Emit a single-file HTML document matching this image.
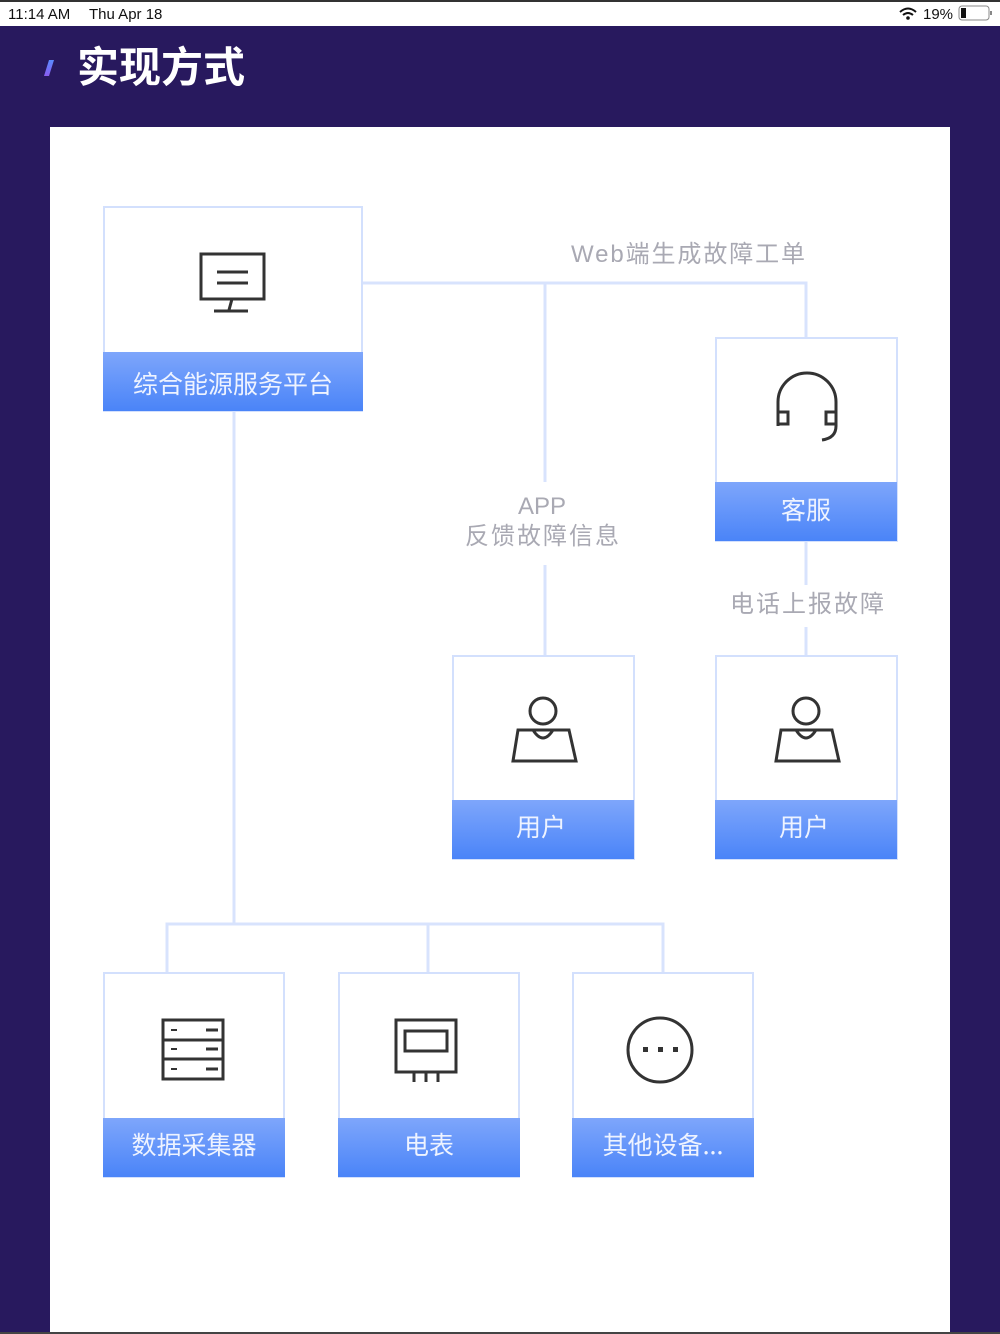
<!DOCTYPE html>
<html><head><meta charset="utf-8"><style>
html,body{margin:0;padding:0;width:1000px;height:1334px;overflow:hidden;background:#28195e;font-family:"Liberation Sans","Noto Sans CJK SC",sans-serif}
</style></head><body>
<svg width="1000" height="1334" xmlns="http://www.w3.org/2000/svg" style="position:absolute;left:0;top:0">
<defs>
<linearGradient id="g" x1="0" y1="0" x2="0" y2="1"><stop offset="0" stop-color="#7ea6fb"/><stop offset="1" stop-color="#4a84f8"/></linearGradient>
<linearGradient id="s" x1="0" y1="0" x2="0" y2="1"><stop offset="0" stop-color="#5a8bff"/><stop offset="1" stop-color="#8a5cf0"/></linearGradient>
</defs>
<rect x="0" y="0" width="1000" height="2" fill="#333"/>
<rect x="0" y="2" width="1000" height="24" fill="#fff"/>
<text x="8" y="19" font-size="15" fill="#111">11:14 AM</text>
<text x="89" y="19" font-size="15" fill="#111">Thu Apr 18</text>
<text x="923" y="19" font-size="15" fill="#111">19%</text>
<path d="M900 12 q8 -7 16 0 M903 15 q5 -4 10 0" stroke="#111" stroke-width="2" fill="none"/><circle cx="908" cy="18" r="1.8" fill="#111"/>
<rect x="959" y="6" width="30" height="14" rx="3" fill="none" stroke="#888" stroke-width="1"/>
<rect x="961" y="8" width="5" height="10" fill="#111"/>
<rect x="990" y="11" width="2" height="4" fill="#888"/>
<polygon points="44,76 49,60 54,60 49,76" fill="url(#s)"/>
<text x="77" y="82" font-size="42" font-weight="bold" fill="#fff" font-family="Noto Sans CJK SC,sans-serif">实现方式</text>
<rect x="50" y="127" width="900" height="1207" fill="#fff"/>
<g stroke="#d8e3fd" stroke-width="3" fill="none">
<path d="M362 283 H806 V337"/>
<path d="M545 283 V482 M545 565 V655"/>
<path d="M806 541 V585 M806 627 V655"/>
<path d="M234 411 V924 M167 972 V924 H663 V972 M428 924 V972"/>
</g>
<g font-family="Liberation Sans,Noto Sans CJK SC,sans-serif" fill="#a9a9b3" font-size="24" text-anchor="middle">
<text x="688" y="262" textLength="234">Web端生成故障工单</text>
<text x="542" y="514">APP</text>
<text x="542" y="544" textLength="154">反馈故障信息</text>
<text x="807" y="612" textLength="154">电话上报故障</text>
</g>
<g stroke="#d3e0fd" stroke-width="2" fill="#fff">
<rect x="104" y="207" width="258" height="204"/>
<rect x="716" y="338" width="181" height="203"/>
<rect x="453" y="656" width="181" height="203"/>
<rect x="716" y="656" width="181" height="203"/>
<rect x="104" y="973" width="180" height="204"/>
<rect x="339" y="973" width="180" height="204"/>
<rect x="573" y="973" width="180" height="204"/>
</g>
<g fill="url(#g)">
<rect x="103" y="352" width="260" height="59"/>
<rect x="715" y="482" width="182" height="59"/>
<rect x="452" y="800" width="182" height="59"/>
<rect x="715" y="800" width="182" height="59"/>
<rect x="103" y="1118" width="182" height="59"/>
<rect x="338" y="1118" width="182" height="59"/>
<rect x="572" y="1118" width="182" height="59"/>
</g>
<g fill="#eef3ff" font-size="25" text-anchor="middle" font-family="Noto Sans CJK SC,sans-serif">
<text x="233" y="393">综合能源服务平台</text>
<text x="806" y="519">客服</text>
<text x="541" y="836">用户</text>
<text x="804" y="836">用户</text>
<text x="194" y="1154">数据采集器</text>
<text x="429" y="1154">电表</text>
<text x="663" y="1154">其他设备...</text>
</g>
<g stroke="#333" stroke-width="3" fill="none">
<rect x="201" y="254" width="63" height="45"/>
<path d="M217 272 H248 M217 283 H248 M232 299 L229 310 M214 311 H248"/>
<path d="M778 426 V402 a29 29 0 0 1 58 0 V426 M778 412 h10 v12 h-10 M836 412 h-10 v12 h10 M836 426 q0 12 -14 14"/>
<circle cx="543" cy="711" r="13"/>
<path d="M518 730 H569 L576 761 H513 Z M533 730 q10 16 20 0"/>
<circle cx="806" cy="711" r="13"/>
<path d="M781 730 H832 L839 761 H776 Z M796 730 q10 16 20 0"/>
<rect x="163" y="1020" width="60" height="59"/>
<path d="M163 1040 H223 M163 1059 H223 M206 1030 H218 M206 1049 H218 M206 1069 H218"/>
<path d="M171 1030 h6 M171 1049 h6 M171 1069 h6" stroke-width="2"/>
<rect x="396" y="1020" width="60" height="52"/>
<rect x="405" y="1031" width="42" height="20"/>
<path d="M414 1072 v10 M426 1072 v10 M438 1072 v10"/>
<ellipse cx="660" cy="1050" rx="32" ry="32"/>
</g>
<g fill="#333"><rect x="643" y="1047" width="5" height="5"/><rect x="658" y="1047" width="5" height="5"/><rect x="673" y="1047" width="5" height="5"/></g>
<rect x="0" y="1332" width="1000" height="2" fill="#444"/>
</svg>
</body></html>
